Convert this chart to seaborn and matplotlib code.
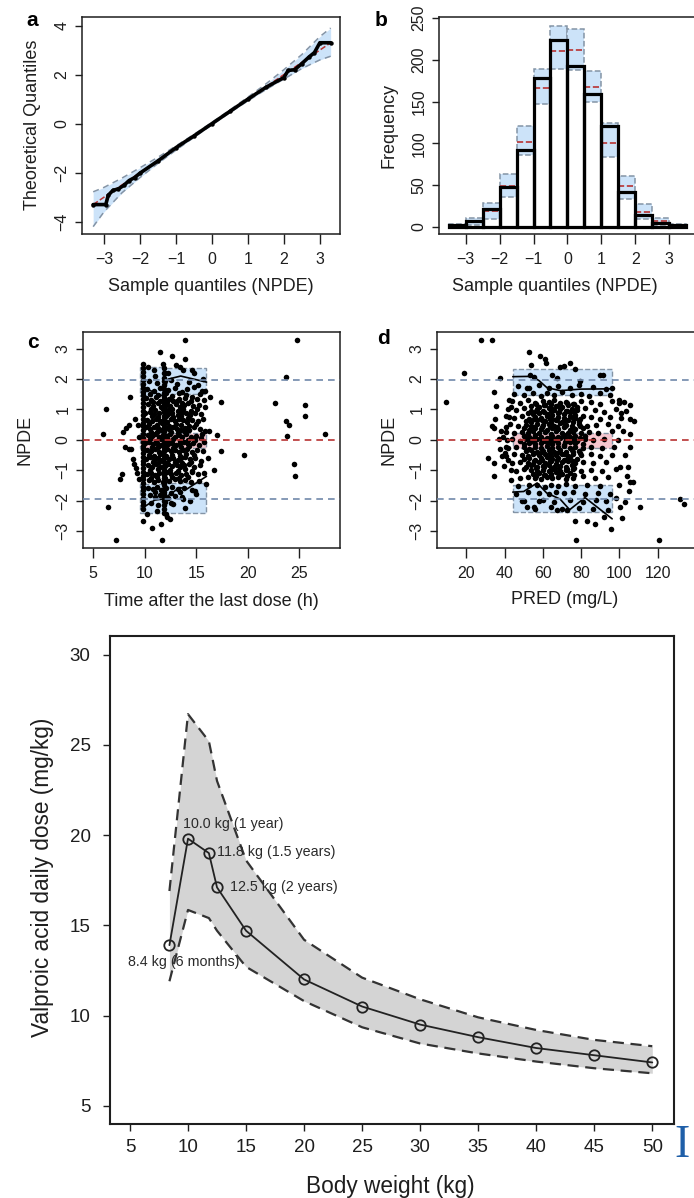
import matplotlib
matplotlib.use("Agg")
import matplotlib.pyplot as plt
import seaborn as sns

# ---------------- data ----------------
# (a) QQ plot
qq_x = [-3.3, -3.0, -2.5, -2.0, -1.5, -1.0, -0.5, 0.0, 0.5, 1.0, 1.5, 2.0, 2.5, 3.0, 3.3]
qq_lo = [-4.2, -3.6, -2.82, -2.2, -1.62, -1.08, -0.56, -0.05, 0.45, 0.93, 1.39, 1.82, 2.25, 2.6, 2.75]
qq_hi = [-2.78, -2.6, -2.22, -1.8, -1.37, -0.91, -0.44, 0.05, 0.56, 1.08, 1.62, 2.2, 2.82, 3.55, 3.9]
obs_x = [-3.3, -2.95, -2.88, -2.75, -2.6, -2.45, -2.3, -2.15, -2.0, -1.5, -1.0, -0.5, 0.0,
         0.5, 1.0, 1.5, 2.0, 2.12, 2.3, 2.5, 2.7, 2.85, 3.0, 3.3]
obs_y = [-3.3, -3.3, -2.92, -2.72, -2.66, -2.52, -2.32, -2.2, -2.02, -1.52, -0.98, -0.5, 0.0,
         0.5, 1.0, 1.48, 1.88, 2.17, 2.2, 2.45, 2.72, 2.9, 3.3, 3.3]

# (b) histogram
bin_edges = [-3.5, -3.0, -2.5, -2.0, -1.5, -1.0, -0.5, 0.0, 0.5, 1.0, 1.5, 2.0, 2.5, 3.0, 3.5]
bin_centers = [-3.25, -2.75, -2.25, -1.75, -1.25, -0.75, -0.25, 0.25, 0.75, 1.25, 1.75, 2.25, 2.75, 3.25]
obs_counts = [2, 7, 21, 48, 92, 178, 224, 193, 159, 121, 42, 14, 5, 2]
pi_low = [0, 2, 10, 36, 86, 147, 189, 188, 150, 84, 33, 10, 2, 0]
pi_high = [3, 11, 29, 63, 121, 189, 241, 237, 187, 124, 61, 28, 11, 3]
pi_med = [1, 6, 19, 49, 102, 166, 211, 212, 167, 101, 49, 18, 7, 1]

# (c) NPDE vs time after last dose
c_box_x = [9.6, 11.8, 16.0]
c_up_lo = [1.45, 1.5]
c_up_hi = [2.40, 2.38]
c_lo_lo = [-2.42, -2.40]
c_lo_hi = [-1.45, -1.42]
c_mid_lo = [-0.26, -0.26]
c_mid_hi = [0.22, 0.22]
c_upline_x = [9.7, 11.7, 12.3, 13.5, 16.0]
c_upline_y = [1.75, 1.45, 2.0, 2.1, 1.9]
c_loline_x = [9.7, 11.0, 11.8, 13.4, 14.1, 16.0]
c_loline_y = [-2.26, -1.98, -1.95, -1.57, -1.62, -1.2]
c_stripe1_y = [-2.28, -2.15, -2.04, -1.92, -1.79, -1.66, -1.55, -1.42, -1.3, -1.18, -1.05, -0.93,
               -0.8, -0.69, -0.56, -0.44, -0.31, -0.19, -0.06, 0.07, 0.19, 0.32, 0.45, 0.57, 0.7,
               0.82, 0.95, 1.08, 1.2, 1.33, 1.46, 1.58, 1.71, 1.84, 1.96, 2.09, 2.22, 2.35, 2.5]
c_stripe2_y = [-2.4, -2.27, -2.14, -2.01, -1.9, -1.77, -1.63, -1.5, -1.38, -1.25, -1.13, -0.99,
               -0.86, -0.74, -0.61, -0.49, -0.36, -0.22, -0.1, 0.03, 0.16, 0.28, 0.41, 0.53, 0.66,
               0.79, 0.91, 1.04, 1.17, 1.29, 1.42, 1.55, 1.68, 1.8, 1.93, 2.05, 2.2, 2.38]
c_points = [
    (6.0, 0.18), (6.3, 1.0), (6.45, -2.2), (7.25, -3.3), (7.58, -1.29), (7.81, -1.11), (7.9, 0.26),
    (8.22, 0.4), (8.51, 0.5), (8.6, 1.41), (8.12, -0.23), (8.45, -0.29), (8.68, -0.3), (8.87, -0.64),
    (9.0, -0.79), (9.13, -0.94), (9.26, -1.1), (9.42, -1.3), (9.32, 0.5), (9.06, 0.67), (9.5, 0.1),
    (17.0, 0.15), (17.4, 1.26), (17.45, -0.36), (16.75, -1.0), (19.6, -0.5), (22.65, 1.2),
    (23.75, 2.07), (23.75, 0.63), (23.95, 0.5), (23.8, 0.12), (24.45, -0.8), (24.6, -1.18),
    (24.8, 3.3), (25.5, 1.15), (25.5, 0.8), (27.5, 0.18), (13.95, 3.3), (11.45, 2.88), (12.64, 2.76),
    (13.94, 2.65), (11.76, 2.5), (13.0, 2.45), (13.4, 2.4), (9.8, -2.67), (10.75, -2.91),
    (11.6, -2.77), (11.7, -3.29), (12.45, -2.6), (12.2, -2.55), (12.55, -2.07), (13.95, -2.24),
    (13.7, -1.95), (14.4, -2.0), (14.9, -1.7), (10.2, -2.45), (11.2, -2.35), (12.1, -2.45),
    (16.3, 1.41), (16.2, 0.3), (16.1, -0.6), (15.9, 1.6), (15.7, 2.0), (16.0, -1.45), (10.9, 2.3),
    (12.3, 2.2), (14.6, 2.3), (10.3, 2.4),
    (10.4, 1.93), (11.2, 1.86), (12.6, 1.97), (13.1, 1.84), (14.3, 1.91), (15.2, 1.79), (12.0, 2.2),
    (13.7, 2.3), (11.0, 2.1), (14.8, 2.2),
    (10.2, 1.68), (10.9, 1.61), (11.5, 1.72), (12.3, 1.63), (12.9, 1.70), (13.6, 1.58), (14.1, 1.66),
    (14.8, 1.73), (15.6, 1.62),
    (10.5, 1.52), (11.3, 1.47), (12.1, 1.55), (12.7, 1.44), (13.3, 1.53), (14.0, 1.49), (14.6, 1.41),
    (15.4, 1.50),
    (10.1, 1.38), (10.6, 1.31), (11.1, 1.40), (11.9, 1.33), (12.4, 1.36), (12.8, 1.29), (13.3, 1.34),
    (13.9, 1.39), (14.5, 1.27), (15.1, 1.35), (15.8, 1.30),
    (10.8, 1.25), (11.5, 1.28), (12.2, 1.24), (13.1, 1.27), (13.6, 1.22),
    (10.3, 1.18), (10.8, 1.12), (11.3, 1.20), (11.6, 1.09), (12.1, 1.16), (12.5, 1.11), (13.0, 1.19),
    (13.4, 1.07), (13.8, 1.14), (14.2, 1.21), (14.7, 1.10), (15.3, 1.16), (15.9, 1.08),
    (10.6, 1.00), (11.0, 0.97), (11.8, 1.02), (12.3, 0.98), (12.7, 1.03), (13.2, 0.95), (13.7, 1.01),
    (14.5, 0.96), (15.1, 1.02),
    (10.0, 0.88), (10.5, 0.92), (10.9, 0.85), (11.4, 0.90), (12.0, 0.86), (12.3, 0.84), (12.7, 0.89),
    (13.2, 0.83), (13.6, 0.91), (14.0, 0.87), (14.4, 0.82), (14.9, 0.90), (15.5, 0.85),
    (10.7, 0.78), (11.3, 0.75), (12.1, 0.77), (12.8, 0.74), (13.5, 0.79), (14.2, 0.72),
    (10.2, 0.66), (10.7, 0.61), (11.1, 0.68), (11.5, 0.63), (11.9, 0.70), (12.2, 0.60), (12.6, 0.67),
    (12.9, 0.62), (13.3, 0.69), (13.7, 0.64), (14.1, 0.58), (14.6, 0.66), (15.2, 0.61), (15.7, 0.68),
    (10.4, 0.52), (11.2, 0.49), (11.7, 0.55), (12.4, 0.47), (13.0, 0.53), (13.5, 0.50), (14.3, 0.46),
    (15.0, 0.52),
    (10.1, 0.41), (10.5, 0.36), (10.9, 0.43), (11.3, 0.38), (11.6, 0.33), (12.0, 0.40), (12.4, 0.35),
    (12.8, 0.42), (13.1, 0.37), (13.5, 0.31), (13.9, 0.39), (14.3, 0.34), (14.8, 0.41), (15.4, 0.36),
    (15.9, 0.29),
    (10.6, 0.27), (11.2, 0.25), (11.9, 0.28), (12.6, 0.26), (13.2, 0.24), (13.9, 0.27),
    (10.3, 0.17), (10.7, 0.12), (11.0, 0.19), (11.4, 0.10), (11.8, 0.16), (12.2, 0.13), (12.5, 0.20),
    (12.9, 0.08), (13.3, 0.15), (13.6, 0.11), (14.0, 0.18), (14.5, 0.09), (15.0, 0.14), (15.6, 0.19),
    (10.5, 0.02), (11.1, -0.03), (11.6, 0.04), (12.3, -0.01), (12.8, 0.03), (13.4, -0.04), (14.2, 0.01),
    (14.9, -0.02), (15.5, 0.05),
    (10.0, -0.12), (10.4, -0.08), (10.8, -0.15), (11.2, -0.10), (11.6, -0.17), (12.0, -0.07),
    (12.3, -0.13), (12.7, -0.09), (13.0, -0.16), (13.4, -0.11), (13.8, -0.06), (14.2, -0.14),
    (14.7, -0.10), (15.3, -0.18), (15.8, -0.08),
    (10.7, -0.23), (11.3, -0.25), (12.0, -0.22), (12.8, -0.26), (13.5, -0.24), (14.3, -0.21),
    (10.2, -0.33), (10.6, -0.38), (11.0, -0.31), (11.4, -0.40), (11.9, -0.35), (12.2, -0.29),
    (12.6, -0.37), (12.9, -0.32), (13.3, -0.41), (13.7, -0.34), (14.1, -0.30), (14.6, -0.39),
    (15.1, -0.33), (15.7, -0.36),
    (10.4, -0.50), (10.9, -0.53), (11.5, -0.47), (12.1, -0.52), (12.7, -0.49), (13.4, -0.54),
    (14.0, -0.48), (14.8, -0.51),
    (10.1, -0.62), (10.5, -0.58), (10.9, -0.65), (11.3, -0.60), (11.7, -0.67), (12.1, -0.57),
    (12.4, -0.63), (12.8, -0.59), (13.2, -0.66), (13.5, -0.61), (13.9, -0.56), (14.4, -0.64),
    (14.9, -0.60), (15.5, -0.68),
    (10.8, -0.74), (11.4, -0.72), (12.2, -0.75), (12.9, -0.73), (13.6, -0.77), (14.5, -0.74),
    (10.3, -0.83), (10.7, -0.88), (11.1, -0.81), (11.5, -0.90), (12.0, -0.85), (12.3, -0.79),
    (12.7, -0.87), (13.1, -0.82), (13.4, -0.91), (13.8, -0.84), (14.3, -0.80), (14.8, -0.89),
    (15.4, -0.83),
    (10.5, -1.00), (11.3, -0.97), (11.9, -1.03), (12.5, -0.98), (13.2, -1.02), (13.9, -0.96),
    (14.6, -1.01),
    (10.2, -1.12), (10.6, -1.08), (11.0, -1.15), (11.4, -1.10), (11.9, -1.17), (12.2, -1.07),
    (12.6, -1.13), (13.0, -1.09), (13.5, -1.16), (14.0, -1.11), (14.6, -1.06), (15.2, -1.14),
    (15.8, -1.10),
    (10.6, -1.24), (11.2, -1.22), (12.0, -1.26), (12.7, -1.23), (13.3, -1.25), (14.2, -1.21),
    (10.4, -1.33), (10.9, -1.38), (11.3, -1.31), (11.8, -1.40), (12.4, -1.35), (12.9, -1.29),
    (13.4, -1.37), (13.9, -1.32), (14.5, -1.39), (15.3, -1.34),
    (10.3, -1.58), (10.8, -1.63), (11.2, -1.56), (11.6, -1.65), (12.1, -1.60), (12.7, -1.55),
    (13.2, -1.62), (13.8, -1.57), (14.6, -1.64),
    (11.0, -1.73), (11.9, -1.71), (12.6, -1.75), (13.4, -1.72),
    (10.5, -1.83), (11.0, -1.88), (11.5, -1.81), (12.3, -1.90), (12.9, -1.84), (13.6, -1.87),
    (15.0, -1.79),
    (10.6, -2.08), (11.3, -2.13), (12.0, -2.05), (12.8, -2.11),
]

# (d) NPDE vs PRED
d_box_x = [44.3, 96.2]
d_up = [1.47, 2.34]
d_low = [-2.39, -1.49]
d_mid = [-0.28, 0.22]
d_upline_x = [44.3, 54.3, 58.0, 62.1, 69.1, 79.6, 96.2]
d_upline_y = [2.08, 2.09, 1.95, 1.72, 1.62, 1.67, 1.68]
d_loline_x = [44.3, 50.0, 57.0, 62.0, 69.0, 74.0, 82.0, 96.2]
d_loline_y = [-1.72, -1.70, -1.42, -1.75, -1.95, -2.30, -1.90, -2.60]
d_points = [
    (9.5, 1.25), (19, 2.2), (27.7, 3.3), (33.4, 3.3), (37.4, 2.03), (34.6, 1.57), (35.5, 1.13),
    (35.2, 0.7), (33.6, 0.47), (34.3, 0.39), (31.6, -0.6), (34.3, -0.77), (34.3, -1.18), (36.9, 0.02),
    (37.8, -0.31), (38.6, -0.53), (39.6, -0.86), (40.4, -0.44), (41.2, 0.0), (38.1, 0.3), (39.4, 0.1),
    (40.8, 0.43), (42.2, 0.76), (43.2, 1.09), (42.1, 1.3), (40.8, -0.22), (42.0, -0.66), (43.1, -0.98),
    (43.6, -1.31), (52.6, 2.88), (58.4, 2.76), (61.3, 2.65), (61.7, 2.52), (54.0, 2.45), (53.5, 2.15),
    (55.2, 2.07), (64.8, 2.12), (69.2, 2.4), (74.4, 2.52), (71.2, 2.43), (76.6, 2.33), (79.6, 1.93),
    (90.1, 2.15), (91.5, 2.12), (67.4, 2.03), (96.1, 1.72), (51.7, 1.72), (131.9, -1.96),
    (133.6, -2.11), (120.6, -3.3), (111.0, -2.22), (105.4, -1.38), (107, -1.38), (104.8, -1.7),
    (101.3, -2.58), (100.5, -2.2), (103.1, -2.04), (95.8, -2.93), (91.8, -2.53), (87.4, -2.77),
    (83.1, -2.66), (76.6, -2.66), (77.5, -3.3), (72.6, -2.32), (67.4, -2.32), (51.7, -2.22),
    (55.2, -2.22), (57.8, -2.0), (49.1, -2.0), (100.5, -0.9), (104.3, -0.88), (105.7, -0.25),
    (105.4, 0.19), (105.7, 0.68), (107.5, 0.63), (103.6, 0.96), (105.4, 1.14), (102.3, 1.26),
    (99.7, 1.32), (102, 0.3), (103, -0.5), (101, 0.9), (100, -1.5), (98, -1.9), (94, -2.3), (104, -1.2),
    (47, 1.77), (53, 1.72), (58, 1.80), (63, 1.70), (68, 1.76), (74, 1.71), (79, 1.79), (86, 1.73),
    (93, 1.68),
    (45, 1.52), (50, 1.47), (55, 1.55), (59, 1.45), (62, 1.53), (66, 1.48), (70, 1.56), (75, 1.46),
    (80, 1.51), (84, 1.44), (90, 1.54), (95, 1.49),
    (44, 1.27), (48, 1.22), (52, 1.30), (56, 1.20), (60, 1.28), (63, 1.23), (66, 1.31), (69, 1.21),
    (72, 1.26), (76, 1.19), (80, 1.29), (85, 1.24), (90, 1.18), (96, 1.27), (100, 1.22),
    (56.5, 1.19), (60.5, 1.16), (64.5, 1.18), (68.5, 1.15), (72.5, 1.2), (76.5, 1.17),
    (54, 1.12), (58, 1.08), (61, 1.14), (64, 1.06), (67, 1.11), (70, 1.09), (73, 1.15), (78, 1.07),
    (42, 1.02), (46, 0.97), (50, 1.05), (54, 0.95), (57, 1.01), (60, 0.96), (63, 1.04), (66, 0.98),
    (69, 1.03), (72, 0.94), (75, 1.00), (78, 0.97), (82, 1.05), (87, 0.99), (92, 0.93), (98, 1.02),
    (56.5, 0.94), (60.5, 0.91), (64.5, 0.95), (68.5, 0.92), (72.5, 0.96), (76.5, 0.93),
    (52, 0.88), (55, 0.84), (58, 0.90), (62, 0.86), (65, 0.83), (68, 0.89), (71, 0.85), (74, 0.91),
    (77, 0.82),
    (41, 0.77), (45, 0.72), (49, 0.79), (53, 0.70), (56, 0.76), (59, 0.73), (62, 0.78), (65, 0.69),
    (68, 0.75), (71, 0.71), (74, 0.77), (77, 0.72), (81, 0.79), (85, 0.74), (90, 0.70), (95, 0.76),
    (101, 0.73),
    (55.5, 0.69), (59.5, 0.66), (63.5, 0.7), (67.5, 0.67), (71.5, 0.65), (75.5, 0.71), (79.5, 0.68),
    (51, 0.63), (54, 0.59), (57, 0.65), (61, 0.61), (64, 0.57), (67, 0.64), (70, 0.60), (73, 0.66),
    (76, 0.58), (79, 0.62),
    (43, 0.52), (47, 0.47), (51, 0.49), (54, 0.45), (57, 0.53), (60, 0.48), (63, 0.51), (66, 0.46),
    (69, 0.54), (72, 0.49), (75, 0.47), (79, 0.52), (83, 0.45), (88, 0.50), (94, 0.53), (99, 0.47),
    (55.5, 0.43), (59.5, 0.41), (63.5, 0.44), (67.5, 0.42), (71.5, 0.46), (75.5, 0.4), (79.5, 0.44),
    (50, 0.38), (53, 0.34), (56, 0.40), (59, 0.36), (62, 0.32), (65, 0.39), (68, 0.35), (71, 0.41),
    (74, 0.33), (77, 0.37), (81, 0.40),
    (41, 0.27), (45, 0.22), (49, 0.25), (52, 0.21), (55, 0.28), (58, 0.23), (61, 0.26), (64, 0.20),
    (67, 0.29), (70, 0.24), (73, 0.22), (76, 0.27), (80, 0.21), (84, 0.26), (89, 0.23), (96, 0.28),
    (50, 0.13), (53, 0.09), (56, 0.15), (59, 0.11), (62, 0.07), (65, 0.14), (68, 0.10), (71, 0.16),
    (74, 0.08), (77, 0.12), (82, 0.14),
    (55.5, 0.06), (59.5, 0.04), (63.5, 0.07), (67.5, 0.05), (71.5, 0.08), (75.5, 0.03), (79.5, 0.06),
    (44, 0.02), (48, -0.03), (51, 0.04), (54, -0.02), (57, 0.03), (60, -0.04), (63, 0.01), (66, -0.01),
    (69, 0.05), (72, -0.03), (75, 0.02), (78, -0.05), (82, 0.03), (86, -0.02), (92, 0.04), (99, -0.01),
    (55.5, -0.06), (59.5, -0.04), (63.5, -0.07), (67.5, -0.05), (71.5, -0.08), (75.5, -0.03),
    (50, -0.13), (53, -0.09), (56, -0.15), (59, -0.11), (62, -0.07), (65, -0.14), (68, -0.10),
    (71, -0.16), (74, -0.08), (77, -0.12), (81, -0.15),
    (42, -0.27), (46, -0.22), (50, -0.25), (53, -0.29), (56, -0.23), (59, -0.26), (62, -0.21),
    (65, -0.28), (68, -0.24), (71, -0.20), (74, -0.27), (77, -0.23), (81, -0.26), (85, -0.22),
    (91, -0.28), (97, -0.24),
    (51, -0.38), (54, -0.34), (57, -0.40), (60, -0.36), (63, -0.32), (66, -0.39), (69, -0.35),
    (72, -0.41), (75, -0.33), (79, -0.37),
    (55.5, -0.43), (59.5, -0.41), (63.5, -0.44), (67.5, -0.42), (71.5, -0.46), (75.5, -0.4), (79.5, -0.44),
    (41, -0.52), (45, -0.47), (49, -0.50), (52, -0.54), (55, -0.48), (58, -0.51), (61, -0.46),
    (64, -0.53), (67, -0.49), (70, -0.45), (73, -0.52), (76, -0.48), (80, -0.51), (85, -0.47),
    (90, -0.54), (96, -0.49),
    (50, -0.63), (53, -0.59), (56, -0.65), (59, -0.61), (62, -0.57), (65, -0.64), (68, -0.60),
    (71, -0.66), (74, -0.58), (78, -0.62),
    (55.5, -0.69), (59.5, -0.66), (63.5, -0.7), (67.5, -0.67), (71.5, -0.65), (75.5, -0.71),
    (44, -0.77), (48, -0.72), (52, -0.75), (55, -0.79), (58, -0.73), (61, -0.76), (64, -0.71),
    (67, -0.78), (70, -0.74), (73, -0.70), (77, -0.77), (81, -0.73), (86, -0.76), (93, -0.72),
    (51, -0.88), (54, -0.84), (57, -0.90), (60, -0.86), (63, -0.82), (66, -0.89), (69, -0.85),
    (72, -0.91), (75, -0.83),
    (56.5, -0.94), (60.5, -0.91), (64.5, -0.95), (68.5, -0.92), (72.5, -0.96), (76.5, -0.93),
    (46, -1.02), (50, -0.97), (54, -1.00), (57, -1.04), (60, -0.98), (63, -1.01), (66, -0.96),
    (69, -1.03), (72, -0.99), (76, -0.95), (80, -1.02), (85, -0.98), (91, -1.01), (98, -0.97),
    (55, -1.13), (58, -1.09), (61, -1.15), (64, -1.11), (67, -1.07), (70, -1.14), (74, -1.10),
    (56.5, -1.19), (60.5, -1.16), (64.5, -1.18), (68.5, -1.15), (72.5, -1.2), (76.5, -1.17),
    (48, -1.27), (52, -1.22), (56, -1.25), (59, -1.29), (62, -1.23), (65, -1.26), (68, -1.21),
    (72, -1.28), (76, -1.24), (81, -1.20), (87, -1.27), (94, -1.23),
    (47, -1.52), (53, -1.47), (57, -1.50), (61, -1.54), (64, -1.48), (68, -1.51), (72, -1.46),
    (77, -1.53), (83, -1.49), (90, -1.52),
    (46, -1.77), (52, -1.72), (58, -1.75), (63, -1.79), (67, -1.73), (71, -1.76), (76, -1.71),
    (82, -1.78), (89, -1.74), (95, -1.77),
    (50, -2.02), (60, -1.97), (66, -2.03), (74, -1.99), (81, -2.04), (88, -1.98), (93, -2.01),
    (56, -2.27), (64, -2.22), (70, -2.26), (79, -2.23), (86, -2.28),
]

# bottom panel: dose vs body weight
weight = [8.4, 10.0, 11.8, 12.5, 15, 20, 25, 30, 35, 40, 45, 50]
dose_med = [13.9, 19.8, 19.0, 17.1, 14.7, 12.0, 10.5, 9.5, 8.8, 8.2, 7.8, 7.4]
dose_hi = [16.9, 26.7, 25.2, 23.0, 18.6, 14.2, 12.1, 10.9, 9.9, 9.2, 8.65, 8.3]
dose_lo = [11.9, 15.85, 15.4, 14.7, 12.7, 10.8, 9.35, 8.45, 7.9, 7.45, 7.08, 6.8]
ann_text = ["10.0 kg (1 year)", "11.8 kg (1.5 years)", "12.5 kg (2 years)", "8.4 kg (6 months)"]
ann_xy = [(9.57, 20.64), (12.47, 19.04), (13.62, 17.13), (4.8, 12.94)]

# ---------------- style ----------------
sns.set_theme(style="white")
plt.rcParams['font.family'] = ['Liberation Sans', 'DejaVu Sans']
plt.rcParams['axes.unicode_minus'] = True

W, H = 694, 1198
fig = plt.figure(figsize=(W / 100, H / 100), dpi=100)

BLUE = '#cce3f9'
EDGE = '#8494a6'
RED = '#b83232'
PINK = '#f6c6cf'
HLINE = '#7189aa'
INK = '#1e1e1e'
dash = (0, (4, 3))
DOT = 16


def px_axes(l, t, r, b):
    return fig.add_axes([l / W, 1 - b / H, (r - l) / W, (b - t) / H])


def r_style(ax, xlen, ylen, lsize, rot_y=True, xpad=5.5, ypad=4.0, spine_w=1.1):
    for s in ax.spines.values():
        s.set_color(INK)
        s.set_linewidth(spine_w)
    ax.tick_params(axis='x', direction='out', length=xlen, width=1.0, color=INK,
                   labelsize=lsize, labelcolor=INK, pad=xpad, bottom=True)
    ax.tick_params(axis='y', direction='out', length=ylen, width=1.0, color=INK,
                   labelsize=lsize, labelcolor=INK, pad=ypad, left=True)
    if rot_y:
        for lab in ax.get_yticklabels():
            lab.set_rotation(90)
            lab.set_verticalalignment('center')
    ax.grid(False)


def labels(ax, xl, yl, xl_pos, yl_pos, size):
    ax.set_xlabel(xl, fontsize=size, color=INK)
    ax.set_ylabel(yl, fontsize=size, color=INK)
    ax.xaxis.label.set_va('center')
    ax.yaxis.label.set_va('center')
    ax.xaxis.set_label_coords(xl_pos[0] / W, 1 - xl_pos[1] / H, transform=fig.transFigure)
    ax.yaxis.set_label_coords(yl_pos[0] / W, 1 - yl_pos[1] / H, transform=fig.transFigure)


# ---------------- panel a ----------------
axA = px_axes(82, 17, 340, 234)
axA.fill_between(qq_x, qq_lo, qq_hi, color=BLUE, lw=0)
axA.plot(qq_x, qq_lo, color=EDGE, lw=1.1, ls=dash)
axA.plot(qq_x, qq_hi, color=EDGE, lw=1.1, ls=dash)
sns.lineplot(x=qq_x, y=qq_x, ax=axA, color=RED, lw=1.1, ls='--', sort=False, estimator=None)
sns.lineplot(x=obs_x, y=obs_y, ax=axA, color='black', lw=2.6, marker='o', markersize=3.2,
             markeredgewidth=0, sort=False, estimator=None)
axA.set_xlim(-3.61, 3.56)
axA.set_ylim(-4.5, 4.35)
axA.set_xticks([-3, -2, -1, 0, 1, 2, 3])
axA.set_yticks([-4, -2, 0, 2, 4])
r_style(axA, 7.2, 5, 11.5)
labels(axA, "Sample quantiles (NPDE)", "Theoretical Quantiles", (211, 287), (33, 125), 13)

# ---------------- panel b ----------------
axB = px_axes(439, 17, 705, 234)
for i in range(len(bin_centers)):
    axB.bar(bin_centers[i], pi_high[i] - pi_low[i], bottom=pi_low[i], width=0.5,
            color=BLUE, edgecolor=EDGE, linewidth=1.1, linestyle='--', zorder=1)
    axB.hlines(pi_med[i], bin_edges[i], bin_edges[i + 1], colors=RED, linestyles='--', lw=1.2, zorder=2)
sns.histplot(x=bin_centers, weights=obs_counts, bins=bin_edges, ax=axB, fill=False,
             color='black', linewidth=2.3, zorder=3)
axB.set_xlim(-3.79, 4.06)
axB.set_ylim(-8.4, 251.2)
axB.set_xticks([-3, -2, -1, 0, 1, 2, 3])
axB.set_yticks([0, 50, 100, 150, 200, 250])
r_style(axB, 7.2, 5, 11.5)
labels(axB, "Sample quantiles (NPDE)", "Frequency", (555, 287), (389, 126), 13)

# ---------------- panel c ----------------
axC = px_axes(83, 332, 340, 548)
for i in range(len(c_box_x) - 1):
    for lo, hi, col in ((c_up_lo[i], c_up_hi[i], BLUE), (c_lo_lo[i], c_lo_hi[i], BLUE),
                        (c_mid_lo[i], c_mid_hi[i], PINK)):
        axC.bar((c_box_x[i] + c_box_x[i + 1]) / 2, hi - lo, bottom=lo,
                width=c_box_x[i + 1] - c_box_x[i], color=col, edgecolor=EDGE,
                linewidth=1.0, linestyle='--', zorder=1)
c_x = [p[0] for p in c_points] + [9.8] * len(c_stripe1_y) + [11.85] * len(c_stripe2_y)
c_y = [p[1] for p in c_points] + c_stripe1_y + c_stripe2_y
sns.scatterplot(x=c_x, y=c_y, ax=axC, color='black', s=DOT, linewidth=0, zorder=3)
sns.lineplot(x=c_upline_x, y=c_upline_y, ax=axC, color='black', lw=1.2, sort=False, estimator=None, zorder=4)
sns.lineplot(x=c_loline_x, y=c_loline_y, ax=axC, color='black', lw=1.2, sort=False, estimator=None, zorder=4)
for yv, col in ((1.96, HLINE), (-1.96, HLINE), (0, RED)):
    axC.axhline(yv, color=col, lw=1.2, ls=dash, zorder=5)
axC.set_xlim(4.03, 28.94)
axC.set_ylim(-3.56, 3.55)
axC.set_xticks([5, 10, 15, 20, 25])
axC.set_yticks([-3, -2, -1, 0, 1, 2, 3])
r_style(axC, 7.2, 5, 11.5)
labels(axC, "Time after the last dose (h)", "NPDE", (211, 601), (25, 440), 13)

# ---------------- panel d ----------------
axD = px_axes(437, 332, 705, 548)
for lo, hi, col in ((d_up[0], d_up[1], BLUE), (d_low[0], d_low[1], BLUE), (d_mid[0], d_mid[1], PINK)):
    axD.bar((d_box_x[0] + d_box_x[1]) / 2, hi - lo, bottom=lo, width=d_box_x[1] - d_box_x[0],
            color=col, edgecolor=EDGE, linewidth=1.0, linestyle='--', zorder=1)
sns.scatterplot(x=[p[0] for p in d_points], y=[p[1] for p in d_points], ax=axD,
                color='black', s=DOT, linewidth=0, zorder=3)
sns.lineplot(x=d_upline_x, y=d_upline_y, ax=axD, color='black', lw=1.2, sort=False, estimator=None, zorder=4)
sns.lineplot(x=d_loline_x, y=d_loline_y, ax=axD, color='black', lw=1.2, sort=False, estimator=None, zorder=4)
for yv, col in ((1.96, HLINE), (-1.96, HLINE), (0, RED)):
    axD.axhline(yv, color=col, lw=1.2, ls=dash, zorder=5)
axD.set_xlim(4.7, 144.7)
axD.set_ylim(-3.56, 3.55)
axD.set_xticks([20, 40, 60, 80, 100, 120])
axD.set_yticks([-3, -2, -1, 0, 1, 2, 3])
r_style(axD, 7.2, 5, 11.5)
labels(axD, "PRED (mg/L)", "NPDE", (565, 600), (389, 440), 13)

# panel letters
for letter, (px, py) in zip("abcd", [(32, 20), (381, 20), (33, 342), (383, 339)]):
    fig.text(px / W, 1 - py / H, letter, fontsize=15, fontweight='bold', ha='center', va='center',
             color='black')

# ---------------- bottom panel ----------------
axE = px_axes(110, 636, 674, 1124)
axE.fill_between(weight, dose_lo, dose_hi, color='#d4d4d4', lw=0, zorder=1)
axE.plot(weight, dose_hi, color='#333333', lw=1.6, ls=(0, (5, 3)), zorder=2)
axE.plot(weight, dose_lo, color='#333333', lw=1.6, ls=(0, (5, 3)), zorder=2)
sns.lineplot(x=weight, y=dose_med, ax=axE, color='#222222', lw=1.3, marker='o', markersize=7.5,
             markerfacecolor='none', markeredgecolor='#222222', markeredgewidth=1.3,
             sort=False, estimator=None, zorder=3)
for txt, (tx, ty) in zip(ann_text, ann_xy):
    axE.text(tx, ty, txt, fontsize=10.3, color='#2a2a2a', ha='left', va='center', zorder=4)
axE.set_xlim(3.28, 51.87)
axE.set_ylim(3.99, 31.03)
axE.set_xticks([5, 10, 15, 20, 25, 30, 35, 40, 45, 50])
axE.set_yticks([5, 10, 15, 20, 25, 30])
r_style(axE, 5, 5, 13.5, rot_y=False, xpad=6.0, ypad=9.0, spine_w=1.5)
labels(axE, "Body weight (kg)", "Valproic acid daily dose (mg/kg)", (390, 1186), (43, 877), 16.3)

fig.text(682 / W, 1 - 1146 / H, "I", fontsize=33, color='#1f5fa8', ha='center', va='center',
         family=['Liberation Serif', 'DejaVu Serif'])

fig.savefig("out.png", dpi=100)
